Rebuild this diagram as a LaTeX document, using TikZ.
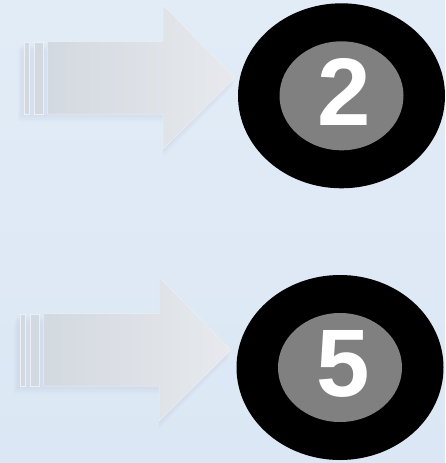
\documentclass[tikz,border=0pt]{standalone}
\usepackage{fontspec}
\setmainfont{Liberation Sans}
\usetikzlibrary{shapes.geometric}
\definecolor{bgtop}{HTML}{E2ECF7}
\definecolor{bgbot}{HTML}{DBE7F4}
\definecolor{arrowl}{HTML}{D3D9E0}
\definecolor{arrowr}{HTML}{E7E9ED}
\definecolor{discgray}{HTML}{808080}
\tikzset{
  ring/.style={ellipse, fill=black, minimum width=207pt, minimum height=185pt, inner sep=0pt},
  disc/.style={ellipse, fill=discgray, minimum width=124pt, minimum height=109pt, inner sep=0pt},
  digit/.style={text=white, inner sep=0pt, font=\fontsize{96}{96}\selectfont\bfseries},
  arrowfill/.style={left color=arrowl, right color=arrowr, draw=white!60!arrowl, line width=0.5pt},
  stripe/.style={fill=arrowl, draw=white!60!arrowl, line width=0.4pt}
}
\begin{document}
\begin{tikzpicture}[x=1pt,y=-1pt]
	\shade[top color=bgtop, bottom color=bgbot] (0,0) rectangle (445,463);
	\useasboundingbox (0,0) rectangle (445,463);
	\foreach \dx/\dy/\cx/\cy/\num/\name in {0/0/341.5/95.8/2/top, -4/272/340/367.5/5/bot}{
		\begin{scope}[shift={(\dx,\dy)}]
			% soft shadow under the arrow
			\foreach \s in {2, 4, 6, 8}{
				\fill[black!70!blue!40, opacity=0.03] (22-\s*0.5,41.7+\s) rectangle (163,114+\s);
				\fill[black!70!blue!40, opacity=0.03] (163,5+\s) -- (235-\s*0.3,78+\s) -- (163,149+\s) -- cycle;
			}
			\draw[arrowfill] (47.7,41.7) -- (163,41.7) -- (163,5) -- (235,78) -- (163,149) -- (163,114) -- (47.7,114) -- cycle;
			\draw[stripe] (24.3,41.7) rectangle (29.3,114);
			\draw[stripe] (34.3,41.7) rectangle (43.3,114);
		\end{scope}
		\node[ring] (ring\name) at (\cx,\cy) {};
		\node[disc] (disc\name) at (ring\name.center) {};
		\node[digit] (num\name) at ([shift={(3,-4)}]disc\name.center) {\num};
	}
\end{tikzpicture}
\end{document}
